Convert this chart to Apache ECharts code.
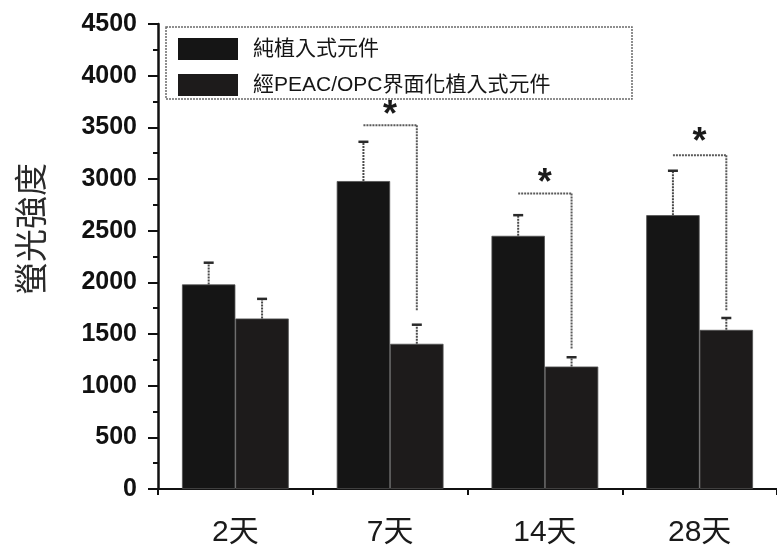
<!DOCTYPE html>
<html>
<head>
<meta charset="utf-8">
<script src="https://cdn.jsdelivr.net/npm/echarts@6/dist/echarts.min.js"></script>
<style>
  html, body { margin: 0; padding: 0; background: #fff; }
  #chart { width: 777px; height: 551px; }
</style>
</head>
<body>
<div id="chart"></div>
<script>
// Time points after implantation
const categories = ['2天', '7天', '14天', '28天'];

// Bare implant: mean fluorescence and upper error
const pureName = '純植入式元件';
const pureValues = [1980, 2980, 2450, 2650];
const pureErrors = [210, 380, 200, 430];

// PEAC/OPC interface-modified implant
const modName = '經PEAC/OPC界面化植入式元件';
const modValues = [1650, 1405, 1185, 1540];
const modErrors = [190, 185, 90, 115];

// Significance brackets: top level, bottom of the right leg, star level
const bracketTop = [null, 3520, 2860, 3230];
const bracketBottom = [null, 1720, 1350, 1720];
const starLevel = [null, 3690, 3030, 3420];

// Value axis
const yMin = 0, yMax = 4500, yStep = 500;
const yTitle = '螢光強度';

const CAT_GAP = 0.31;   // fraction of each band left empty around the bar pair
const LATIN = '"Liberation Sans", Arial, "Noto Sans CJK TC", sans-serif';
const CJK = '"Liberation Sans", "Noto Sans CJK TC", sans-serif';

const chart = echarts.init(document.getElementById('chart'), null, { renderer: 'canvas' });

// x centre of bar k (0 = left, 1 = right) inside category idx
function barCenter(api, idx, k) {
  const band = api.size([1, 0])[0];
  const barW = band * (1 - CAT_GAP) / 2;
  const c = api.coord([idx, 0])[0];
  return c + (k === 0 ? -barW / 2 : barW / 2);
}

const errorData = [];
pureValues.forEach((v, i) => errorData.push([i, v, pureErrors[i], 0]));
modValues.forEach((v, i) => errorData.push([i, v, modErrors[i], 1]));

const bracketData = [];
bracketTop.forEach((t, i) => {
  if (t != null) bracketData.push([i, t, bracketBottom[i], starLevel[i]]);
});

const STAR_SIZE = 36;

const option = {
  animation: false,
  backgroundColor: '#ffffff',
  textStyle: { fontFamily: CJK },
  grid: { left: 158, right: -2, top: 24, bottom: 62, containLabel: false },
  legend: {
    orient: 'vertical',
    left: 173,
    top: 33,
    itemWidth: 60,
    itemHeight: 22,
    itemGap: 14,
    icon: 'rect',
    selectedMode: false,
    data: [pureName, modName],
    itemStyle: { borderWidth: 0 },
    textStyle: {
      fontFamily: '"Liberation Sans Narrow", "Liberation Sans", "Noto Sans CJK TC", sans-serif',
      fontSize: 21,
      color: '#151515',
      padding: [0, 0, 0, 10]
    }
  },
  graphic: [
    {
      type: 'rect',
      z: 1,
      shape: { x: 166, y: 27, width: 466, height: 72 },
      style: { fill: '#fff', stroke: '#6a6a6a', lineWidth: 1.5, lineDash: [2, 1] }
    },
    {
      type: 'text',
      x: 30, y: 229,
      rotation: Math.PI / 2,
      style: {
        text: yTitle,
        fontFamily: '"Noto Sans CJK TC", sans-serif',
        fontSize: 33,
        fill: '#2a2a2a',
        align: 'center',
        verticalAlign: 'middle'
      }
    }
  ],
  xAxis: [
    {
      type: 'category',
      data: categories,
      boundaryGap: true,
      axisLine: { lineStyle: { color: '#111', width: 2 } },
      axisTick: { alignWithLabel: true, length: 12, lineStyle: { color: '#111', width: 2 } },
      axisLabel: {
        margin: 29,
        fontFamily: LATIN,
        fontSize: 30,
        color: '#1a1a1a'
      },
      splitLine: { show: false }
    },
    {
      // boundary ticks between the day groups
      type: 'category',
      data: categories,
      position: 'bottom',
      offset: 0,
      boundaryGap: true,
      axisLine: { show: false },
      axisTick: { show: true, interval: 0, length: 6, lineStyle: { color: '#111', width: 2 } },
      axisLabel: { show: false },
      splitLine: { show: false }
    }
  ],
  yAxis: {
    type: 'value',
    min: yMin,
    max: yMax,
    interval: yStep,
    axisLine: { show: true, lineStyle: { color: '#111', width: 2.5 } },
    axisTick: { show: true, length: 10, lineStyle: { color: '#111', width: 2 } },
    minorTick: { show: true, splitNumber: 2, length: 5, lineStyle: { color: '#111', width: 2 } },
    splitLine: { show: false },
    axisLabel: {
      margin: 21,
      fontFamily: LATIN,
      fontWeight: 'bold',
      fontSize: 25,
      color: '#111',
      formatter: (v) => String(v)
    }
  },
  series: [
    {
      name: pureName,
      type: 'bar',
      data: pureValues,
      barGap: '0%',
      barCategoryGap: (CAT_GAP * 100) + '%',
      itemStyle: { color: '#151515', borderColor: '#505050', borderWidth: 0.8 },
      z: 2
    },
    {
      name: modName,
      type: 'bar',
      data: modValues,
      barGap: '0%',
      barCategoryGap: (CAT_GAP * 100) + '%',
      itemStyle: { color: '#1d1b1b', borderColor: '#505050', borderWidth: 0.8 },
      z: 2
    },
    {
      // upper error bars
      type: 'custom',
      z: 3,
      silent: true,
      data: errorData,
      renderItem: function (params, api) {
        const idx = api.value(0);
        const x = barCenter(api, idx, api.value(3));
        const yBase = api.coord([idx, api.value(1)])[1];
        const yTop = api.coord([idx, api.value(1) + api.value(2)])[1];
        return {
          type: 'group',
          children: [
            {
              type: 'line',
              shape: { x1: x, y1: yBase, x2: x, y2: yTop },
              style: { stroke: '#4a4a4a', lineWidth: 2, lineDash: [2, 1] }
            },
            {
              type: 'line',
              shape: { x1: x - 5, y1: yTop, x2: x + 5, y2: yTop },
              style: { stroke: '#2a2a2a', lineWidth: 2.5 }
            }
          ]
        };
      }
    },
    {
      // significance brackets with stars
      type: 'custom',
      z: 3,
      silent: true,
      data: bracketData,
      renderItem: function (params, api) {
        const idx = api.value(0);
        const xl = barCenter(api, idx, 0);
        const xr = barCenter(api, idx, 1);
        const yT = api.coord([idx, api.value(1)])[1];
        const yB = api.coord([idx, api.value(2)])[1];
        const s = api.coord([idx, api.value(3)]);
        const dotted = { stroke: '#5a5a5a', lineWidth: 2, lineDash: [2, 1] };
        return {
          type: 'group',
          children: [
            { type: 'line', shape: { x1: xl, y1: yT, x2: xr, y2: yT }, style: dotted },
            { type: 'line', shape: { x1: xr, y1: yT, x2: xr, y2: yB }, style: dotted },
            {
              // the asterisk glyph sits high in its box, so drop it to centre the ink
              type: 'text',
              x: s[0], y: s[1] + STAR_SIZE * 0.22,
              style: {
                text: '*',
                fontFamily: LATIN,
                fontWeight: 'bold',
                fontSize: STAR_SIZE,
                fill: '#1a1a1a',
                align: 'center',
                verticalAlign: 'middle'
              }
            }
          ]
        };
      }
    }
  ]
};

chart.setOption(option);
</script>
</body>
</html>
